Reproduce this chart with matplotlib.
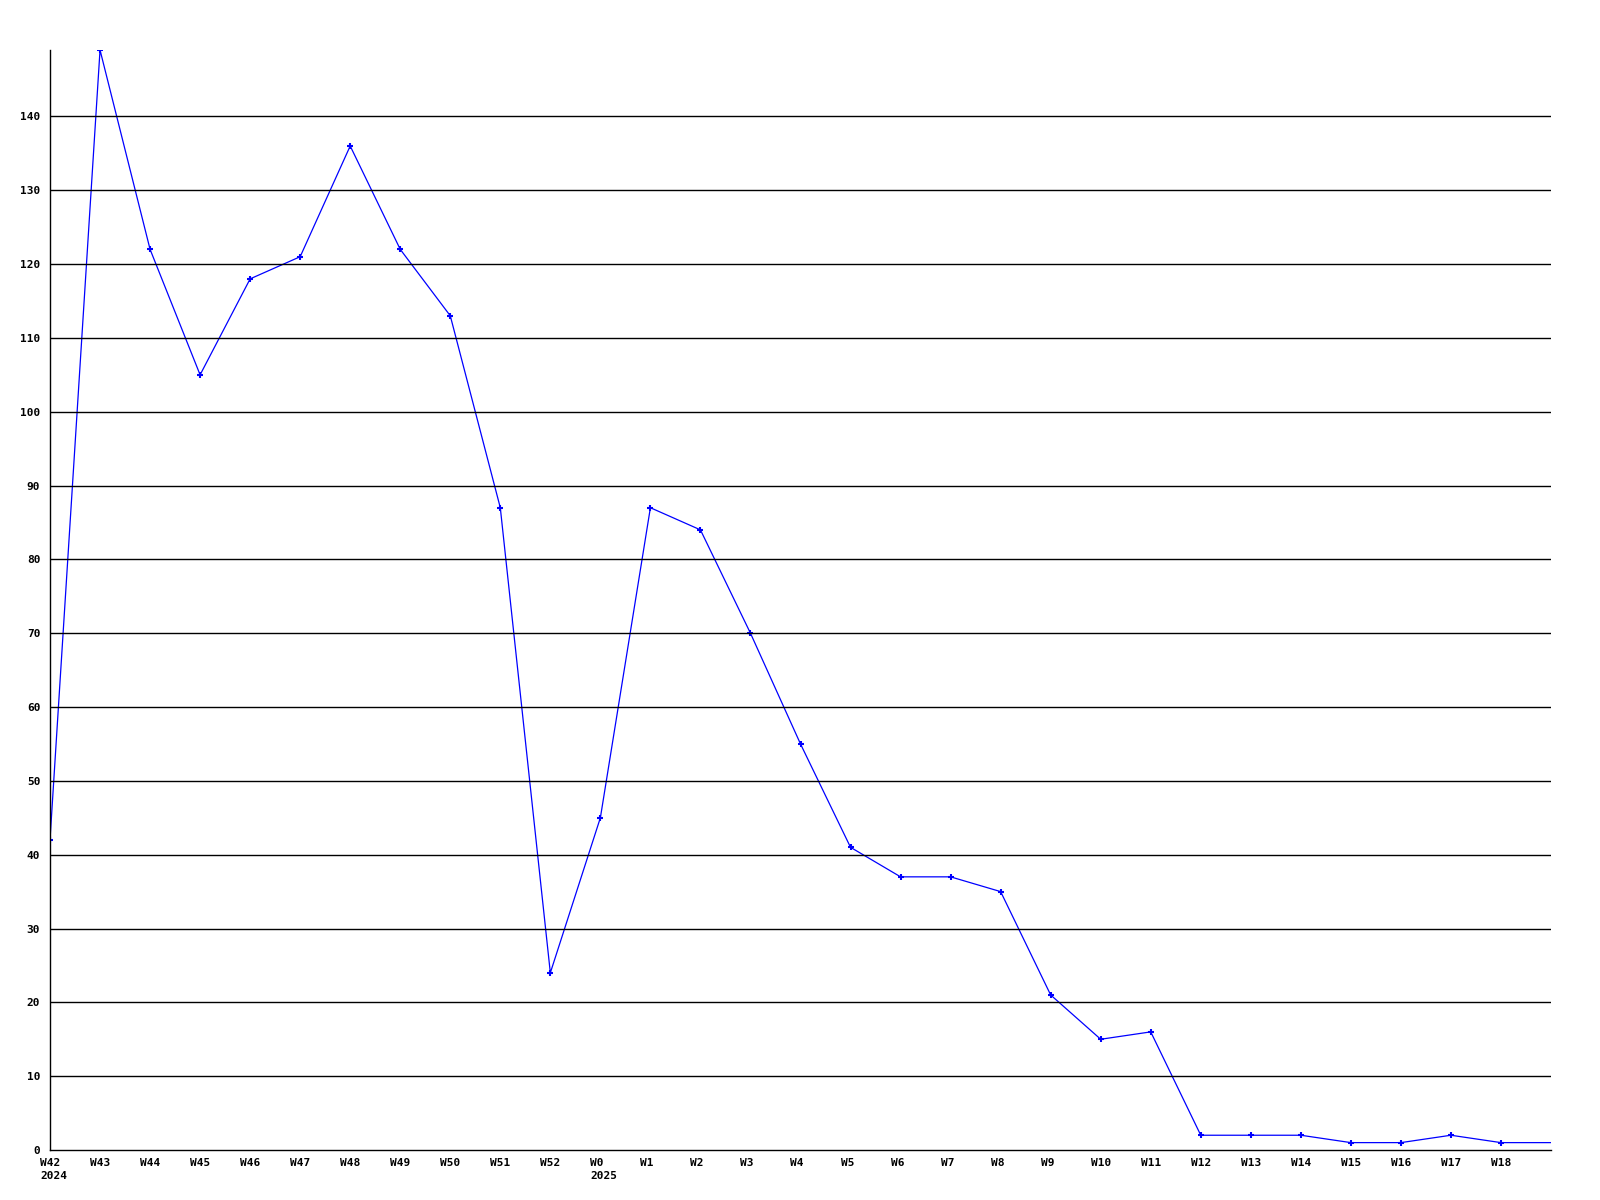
import matplotlib
matplotlib.use("Agg")
import matplotlib.pyplot as plt
import matplotlib.transforms as mtransforms

weeks = ["W42\n2024", "W43", "W44", "W45", "W46", "W47", "W48", "W49", "W50", "W51", "W52",
         "W0\n2025", "W1", "W2", "W3", "W4", "W5", "W6", "W7", "W8", "W9", "W10", "W11",
         "W12", "W13", "W14", "W15", "W16", "W17", "W18"]
values = [42, 149, 122, 105, 118, 121, 136, 122, 113, 87, 24,
          45, 87, 84, 70, 55, 41, 37, 37, 35, 21, 15, 16,
          2, 2, 2, 1, 1, 2, 1]
tail_value = 1  # line continues to the right edge
yticks = list(range(0, 150, 10))

fig = plt.figure(figsize=(16, 12), dpi=100)
ax = fig.add_axes([50/1600, 1 - 1150/1200, 1501/1600, 1100/1200])

xs = list(range(len(values)))
ax.plot(xs + [len(values)], values + [tail_value], color=(0, 0, 1), lw=0.9)
ax.plot(xs, values, linestyle="none", marker="+", color=(0, 0, 1), ms=4, mew=1.5)

ax.set_xlim(0, len(values))
ax.set_ylim(0, 149)

for y in yticks[1:]:
    ax.axhline(y, color="black", lw=1)

ax.set_yticks(yticks)
ax.set_yticklabels([str(v) for v in yticks], fontfamily="DejaVu Sans Mono",
                   fontweight="bold", fontsize=8)
ax.set_xticks(xs)
ax.set_xticklabels([])

base = mtransforms.blended_transform_factory(ax.transData, ax.transAxes)
offset = mtransforms.ScaledTranslation(-10/100, -8/100, fig.dpi_scale_trans)
for x, lab in zip(xs, weeks):
    ax.text(x, 0, lab, transform=base + offset, ha="left", va="top",
            fontfamily="DejaVu Sans Mono", fontweight="bold", fontsize=8,
            linespacing=1.35, clip_on=False)

ax.tick_params(axis="both", length=0)
ax.tick_params(axis="y", pad=7)
for s in ["top", "right"]:
    ax.spines[s].set_visible(False)
ax.spines["left"].set_color("black")
ax.spines["bottom"].set_color("black")
ax.spines["left"].set_linewidth(1)
ax.spines["bottom"].set_linewidth(1)

fig.savefig("out.png", dpi=100)
